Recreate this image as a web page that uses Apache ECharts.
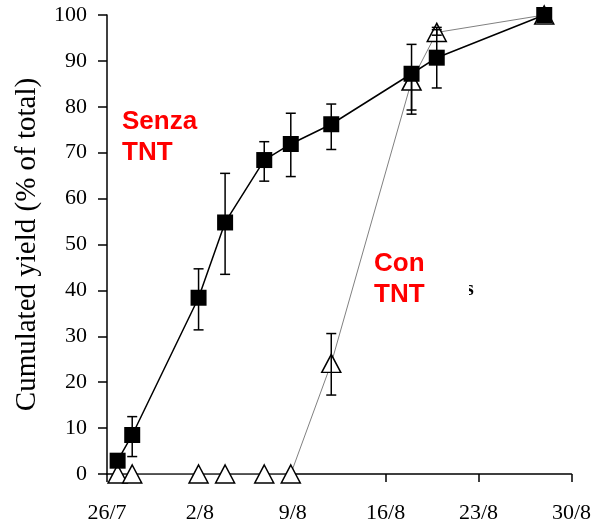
<!DOCTYPE html>
<html>
<head>
<meta charset="utf-8">
<script src="https://cdn.jsdelivr.net/npm/echarts@6/dist/echarts.min.js"></script>
<style>
  html, body { margin: 0; padding: 0; background: #fff; }
  #chart { width: 594px; height: 527px; }
</style>
</head>
<body>
<div id="chart"></div>
<script>
// Sampling dates, as days counted from 26/7
const days = [0.8, 1.9, 6.9, 8.9, 11.85, 13.85, 16.9, 22.95, 24.85, 32.95];

// Cumulated yield (% of total) without TNT, with error-bar limits
const senza     = [2.9, 8.5, 38.4, 54.8, 68.4, 71.9, 76.2, 87.2, 90.7, 100];
const senzaLow  = [null, 3.8, 31.4, 43.5, 63.8, 64.8, 70.7, 78.4, 84.1, null];
const senzaHigh = [null, 12.5, 44.7, 65.5, 72.4, 78.6, 80.6, 93.6, 97.3, null];

// Cumulated yield (% of total) with TNT, with error-bar limits
const con     = [0, 0, 0, 0, 0, 0, 24.1, 85.6, 96.2, 100];
const conLow  = [null, null, null, null, null, null, 17.2, 79.3, 95.6, null];
const conHigh = [null, null, null, null, null, null, 30.6, 88.0, 96.8, null];

// Axis tick labels (one per week)
const xTickLabels = ['26/7', '2/8', '9/8', '16/8', '23/8', '30/8'];
const yTicks = [0, 10, 20, 30, 40, 50, 60, 70, 80, 90, 100];

const serif = '"Liberation Serif", "Times New Roman", serif';
const sans = '"Liberation Sans", Arial, sans-serif';

function pairs(xs, ys) {
  return xs.map((x, i) => [x, ys[i]]);
}
function bars(xs, lo, hi) {
  const out = [];
  xs.forEach((x, i) => {
    if (lo[i] != null && hi[i] != null) out.push([x, lo[i], hi[i]]);
  });
  return out;
}

function errorBarRenderer(params, api) {
  const x = api.value(0);
  const lo = api.coord([x, api.value(1)]);
  const hi = api.coord([x, api.value(2)]);
  const cap = 5;
  const style = { stroke: '#000', lineWidth: 1.5, fill: null };
  return {
    type: 'group',
    children: [
      { type: 'line', shape: { x1: lo[0], y1: lo[1], x2: hi[0], y2: hi[1] }, style },
      { type: 'line', shape: { x1: lo[0] - cap, y1: lo[1], x2: lo[0] + cap, y2: lo[1] }, style },
      { type: 'line', shape: { x1: hi[0] - cap, y1: hi[1], x2: hi[0] + cap, y2: hi[1] }, style }
    ]
  };
}

const chart = echarts.init(document.getElementById('chart'), null, { renderer: 'canvas' });

chart.setOption({
  animation: false,
  backgroundColor: '#fff',
  grid: { left: 107, right: 20, top: 15, bottom: 53, containLabel: false },
  xAxis: {
    type: 'value',
    min: 0,
    max: 35,
    interval: 7,
    axisLine: { show: true, onZero: true, lineStyle: { color: '#000', width: 1.5 } },
    axisTick: { show: true, inside: false, length: 8, lineStyle: { color: '#000', width: 1.5 } },
    axisLabel: {
      margin: 28,
      color: '#000',
      fontFamily: serif,
      fontSize: 22,
      formatter: (v) => xTickLabels[Math.round(v / 7)]
    },
    splitLine: { show: false }
  },
  yAxis: {
    type: 'value',
    min: yTicks[0],
    max: yTicks[yTicks.length - 1],
    interval: 10,
    name: 'Cumulated yield (% of total)',
    nameLocation: 'middle',
    nameGap: 65,
    nameTextStyle: { color: '#000', fontFamily: serif, fontSize: 29 },
    axisLine: { show: true, lineStyle: { color: '#000', width: 1.5 } },
    axisTick: { show: true, inside: false, length: 9, lineStyle: { color: '#000', width: 1.5 } },
    axisLabel: { margin: 20, color: '#000', fontFamily: serif, fontSize: 22 },
    splitLine: { show: false }
  },
  series: [
    {
      name: 'Con TNT',
      type: 'line',
      data: pairs(days, con),
      symbol: 'triangle',
      symbolSize: [19, 18],
      showAllSymbol: true,
      lineStyle: { color: '#808080', width: 1 },
      itemStyle: { color: '#fff', borderColor: '#000', borderWidth: 1.5 },
      z: 3,
      silent: true
    },
    {
      name: 'Con TNT error',
      type: 'custom',
      data: bars(days, conLow, conHigh),
      renderItem: errorBarRenderer,
      z: 4,
      silent: true
    },
    {
      name: 'Senza TNT error',
      type: 'custom',
      data: bars(days, senzaLow, senzaHigh),
      renderItem: errorBarRenderer,
      z: 4,
      silent: true
    },
    {
      name: 'Senza TNT',
      type: 'line',
      data: pairs(days, senza),
      symbol: 'rect',
      symbolSize: 16,
      showAllSymbol: true,
      lineStyle: { color: '#000', width: 1.5 },
      itemStyle: { color: '#000', borderColor: '#000', borderWidth: 0 },
      z: 5,
      silent: true
    }
  ],
  graphic: [
    {
      type: 'text', left: 122, top: 106, z: 10,
      style: { text: 'Senza\nTNT', fill: '#ff0000', font: 'bold 26px ' + sans, lineHeight: 31 }
    },
    {
      type: 'text', left: 374, top: 248, z: 10,
      style: { text: 'Con\nTNT', fill: '#ff0000', font: 'bold 26px ' + sans, lineHeight: 31 }
    },
    {
      type: 'text', left: 466, top: 280, z: 10,
      style: { text: 's', fill: '#000', font: 'bold 20px ' + serif }
    },
    {
      type: 'rect', left: 462, top: 282, z: 11,
      shape: { width: 7, height: 22 },
      style: { fill: '#fff' }
    }
  ]
});
</script>
</body>
</html>
